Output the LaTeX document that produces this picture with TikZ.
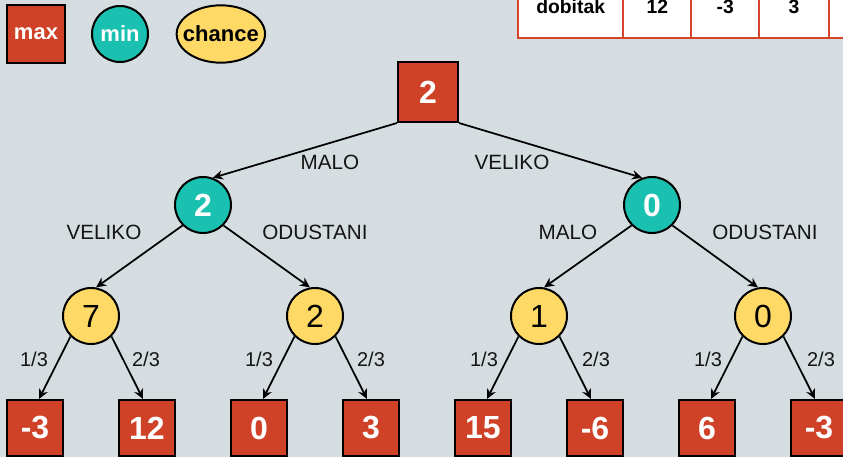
\documentclass[tikz,border=0pt]{standalone}
\usepackage{fontspec}
\setmainfont{Liberation Sans}
\usetikzlibrary{arrows.meta,positioning,shapes.geometric}
\definecolor{bgc}{RGB}{214,221,224}
\definecolor{maxc}{RGB}{208,66,39}
\definecolor{minc}{RGB}{26,192,176}
\definecolor{chc}{RGB}{255,217,102}
\definecolor{tabc}{RGB}{213,67,42}

\begin{document}
\begin{tikzpicture}[x=0.75pt,y=-0.75pt,
  maxn/.style={draw,line width=1.5pt,fill=maxc,minimum size=42pt,inner sep=0pt,text=white,font=\fontsize{24}{24}\selectfont\bfseries},
  minn/.style={circle,draw,line width=1.5pt,fill=minc,minimum size=42pt,inner sep=0pt,text=white,font=\fontsize{24}{24}\selectfont\bfseries},
  chn/.style={circle,draw,line width=1.5pt,fill=chc,minimum size=42pt,inner sep=0pt,font=\fontsize{24}{24}\selectfont},
  leg/.style={font=\fontsize{16.5}{16.5}\selectfont\bfseries},
  lab/.style={font=\fontsize{15.5}{15.5}\selectfont,text=black!92},
  pr/.style={font=\fontsize{15}{15}\selectfont,text=black!92},
  cell/.style={draw=tabc,line width=1.5pt,fill=white,minimum height=47pt,outer sep=0pt,inner sep=0pt,font=\fontsize{14.5}{14.5}\selectfont\bfseries},
  br/.style={-{Stealth[length=7.5pt,width=7pt]},line width=1.3pt}]
\useasboundingbox (0,0) rectangle (843,457);
\clip (0,0) rectangle (843,457);
\fill[bgc] (0,0) rectangle (843,457);
% --- legend ---
\node[maxn,leg,minimum size=43pt] (mx) at (36,34) {max};
\node[minn,leg,right=19pt of mx] (mn) {min};
\node[chn,leg,ellipse,inner xsep=-5pt,minimum width=64pt,minimum height=43pt,right=20pt of mn] (ch) {chance};
% --- payoff table (cut at the top and right) ---
\node[cell,minimum width=79pt,anchor=south west] (t0) at (518,38) {dobitak};
\node[cell,minimum width=51pt,right=0pt of t0] (t1) {12};
\node[cell,minimum width=51pt,right=0pt of t1] (t2) {-3};
\node[cell,minimum width=52pt,right=0pt of t2] (t3) {3};
\node[cell,minimum width=52pt,right=0pt of t3] (t4) {};
% --- tree ---
\node[maxn,minimum size=45pt] (r) at (428,92) {2};
\node[minn] (m1) at (203,205) {2};
\node[minn] (m2) at (652,205) {0};
\node[chn] (c1) at (91,316) {7};
\node[chn] (c2) at (315,316) {2};
\node[chn] (c3) at (539,316) {1};
\node[chn] (c4) at (763,316) {0};
\node[maxn] (l1) at (35,428) {-3};
\node[maxn] (l2) at (147,428) {12};
\node[maxn] (l3) at (259,428) {0};
\node[maxn] (l4) at (371,428) {3};
\node[maxn] (l5) at (483,428) {15};
\node[maxn] (l6) at (595,428) {-6};
\node[maxn] (l7) at (707,428) {6};
\node[maxn] (l8) at (819,428) {-3};
% --- moves ---
\draw[br] (r.south west) -- (m1.70);
\draw[br] (r.south east) -- (m2.110);
\draw[br] (m1.south west) -- (c1.80);
\draw[br] (m1.south east) -- (c2.100);
\draw[br] (m2.south west) -- (c3.80);
\draw[br] (m2.south east) -- (c4.100);
\draw[br] (c1.south west) -- ([xshift=3pt]l1.north);
\draw[br] (c1.south east) -- ([xshift=-3pt]l2.north);
\draw[br] (c2.south west) -- ([xshift=3pt]l3.north);
\draw[br] (c2.south east) -- ([xshift=-3pt]l4.north);
\draw[br] (c3.south west) -- ([xshift=3pt]l5.north);
\draw[br] (c3.south east) -- ([xshift=-3pt]l6.north);
\draw[br] (c4.south west) -- ([xshift=3pt]l7.north);
\draw[br] (c4.south east) -- ([xshift=-3pt]l8.north);
\node[lab] (e1) at (330,162) {MALO};
\node[lab] (e2) at (512,162) {VELIKO};
\node[lab] (e3) at (104,232) {VELIKO};
\node[lab] (e4) at (315,232) {ODUSTANI};
\node[lab] (e5) at (568,232) {MALO};
\node[lab] (e6) at (765,232) {ODUSTANI};
% --- chance probabilities ---
\node[pr] (p1) at (34,359) {1/3};
\node[pr] (p2) at (146,359) {2/3};
\node[pr] (p3) at (259,359) {1/3};
\node[pr] (p4) at (371,359) {2/3};
\node[pr] (p5) at (484,359) {1/3};
\node[pr] (p6) at (596,359) {2/3};
\node[pr] (p7) at (708,359) {1/3};
\node[pr] (p8) at (821,359) {2/3};
\end{tikzpicture}
\end{document}
